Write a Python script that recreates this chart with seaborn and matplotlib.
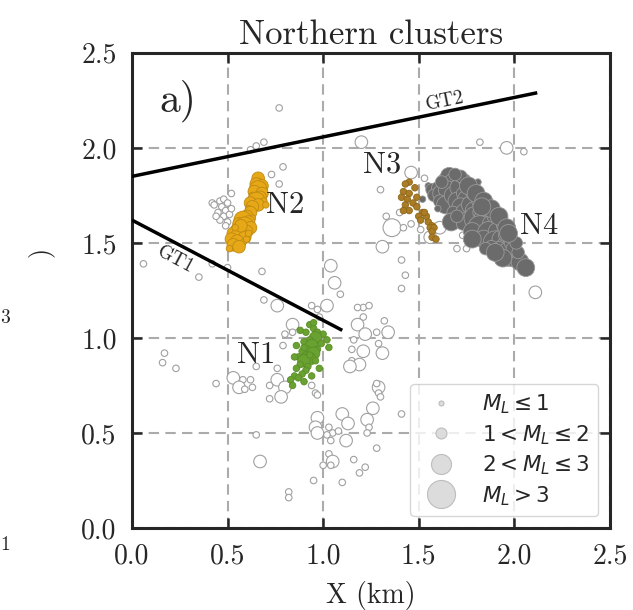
import matplotlib
matplotlib.use("Agg")
import numpy as np
import pandas as pd
import matplotlib.pyplot as plt
import seaborn as sns
from matplotlib.lines import Line2D

# ---------------- data ----------------
# background events (hollow circles): x, y, magnitude class (1..4)
bg_x = [0.77,0.65,0.69,0.62,0.79,0.73,0.77,0.52,0.42,
        0.43,0.46,0.48,0.50,0.47,0.49,0.45,0.48,0.51,0.46,0.50,0.52,0.44,0.49,
        0.06,0.42,0.35,0.50,0.68,0.69,0.76,0.94,
        1.20,1.82,1.96,2.05,1.46,1.30,1.53,
        1.33,1.36,1.42,1.46,1.40,1.51,1.56,1.61,1.70,1.75,1.73,1.31,1.41,1.43,1.41,2.11,
        1.04,1.06,1.09,1.02,1.21,1.24,
        0.97,0.84,0.98,1.18,1.21,1.18,1.32,1.22,1.16,1.28,1.34,1.21,1.15,1.31,1.15,1.19,1.14,1.29,
        1.29,1.29,1.30,1.28,1.41,1.26,1.23,1.24,1.10,1.13,1.12,1.05,1.03,0.97,0.96,0.97,1.02,1.04,
        1.08,1.23,1.28,1.16,1.22,1.19,1.10,0.95,1.03,1.05,1.04,1.00,0.82,0.82,0.67,0.65,
        0.17,0.16,0.23,0.44,0.53,0.58,0.62,0.56,0.63,0.59,0.65,0.76,0.79,0.76,0.72,0.80,0.78,0.72,
        0.94,0.96,0.97,0.80,0.84]
bg_y = [2.21,2.01,2.03,1.99,1.90,1.86,1.81,1.76,1.71,
        1.70,1.72,1.73,1.71,1.69,1.67,1.66,1.64,1.65,1.62,1.61,1.68,1.64,1.59,
        1.39,1.39,1.32,1.37,1.35,1.20,1.17,1.17,
        2.03,2.03,2.00,1.98,1.87,1.78,1.84,
        1.64,1.58,1.58,1.60,1.66,1.57,1.53,1.58,1.47,1.47,1.54,1.48,1.41,1.33,1.26,1.24,
        1.38,1.29,1.23,1.17,1.16,1.17,
        1.15,1.07,1.11,1.16,1.11,1.07,1.09,1.02,0.99,1.03,1.03,0.93,0.94,0.92,0.88,0.86,0.85,0.97,
        0.74,0.71,0.69,0.76,0.60,0.63,0.57,0.53,0.60,0.55,0.46,0.50,0.53,0.58,0.53,0.50,0.49,0.46,
        0.51,0.50,0.42,0.36,0.32,0.29,0.24,0.25,0.39,0.35,0.33,0.33,0.19,0.16,0.35,0.49,
        0.92,0.87,0.84,0.76,0.79,0.78,0.78,0.74,0.74,0.73,0.85,0.84,0.96,0.78,0.75,0.74,0.69,0.68,
        0.75,0.71,0.70,1.02,1.03]
bg_mag = [1,1,1,1,1,1,1,1,1,
          1,1,1,1,1,1,1,1,1,1,1,1,1,1,
          1,1,1,1,1,1,2,1,
          2,1,2,1,2,1,1,
          1,3,1,1,1,1,2,2,1,1,1,2,1,1,1,2,
          2,2,1,2,1,1,
          1,2,1,1,1,2,1,2,1,1,2,2,1,2,1,2,2,1,
          2,1,1,1,1,2,2,1,2,2,2,1,1,2,2,2,1,1,
          1,1,1,1,1,1,1,1,1,2,1,1,1,1,2,1,
          1,1,1,1,2,1,1,2,1,1,1,1,1,2,1,2,2,1,
          1,1,1,1,1]

# cluster N1 (green)
n1_x = [0.93,0.95,0.88,0.91,0.97,1.00,0.96,0.93,1.02,0.99,0.90,0.94,1.03,0.92,0.97,0.89,0.95,
        0.91,0.87,0.93,0.85,0.90,0.96,0.88,0.92,0.86,0.91,0.89,0.85,0.87,0.83,0.84,0.90,0.94,
        0.98,0.93,0.90,0.86,0.95]
n1_y = [1.07,1.05,1.04,1.03,1.03,1.02,1.00,0.99,0.99,0.97,0.98,0.96,0.95,0.94,0.94,0.93,0.92,
        0.91,0.90,0.89,0.90,0.88,0.88,0.86,0.85,0.84,0.83,0.81,0.80,0.79,0.78,0.75,0.77,0.80,
        0.84,0.91,0.95,0.96,1.08]
n1_mag = [1,1,1,1,1,1,2,1,1,1,1,2,1,1,1,1,2,1,1,2,1,2,1,1,1,1,1,1,1,1,1,1,1,1,1,1,1,1,1]

# cluster N2 (orange)
n2_x = [0.66,0.67,0.65,0.68,0.66,0.64,0.68,0.63,0.67,0.65,0.62,0.69,0.66,0.63,0.61,0.70,
        0.62,0.60,0.63,0.58,0.61,0.56,0.59,0.62,0.55,0.57,0.60,0.53,0.56,0.59,0.52,0.55,0.58,
        0.53,0.51,0.56,0.60,0.57,0.61,0.54]
n2_y = [1.84,1.82,1.81,1.80,1.78,1.77,1.76,1.75,1.74,1.72,1.71,1.72,1.70,1.69,1.68,1.70,
        1.66,1.64,1.63,1.62,1.61,1.60,1.59,1.58,1.57,1.56,1.56,1.55,1.53,1.53,1.52,1.51,1.50,
        1.49,1.47,1.48,1.52,1.59,1.55,1.58]
n2_mag = [2,1,2,2,3,2,2,1,2,3,2,1,2,2,1,1,
          2,2,1,3,2,2,3,2,2,3,2,2,3,2,2,2,1,2,1,2,1,2,1,1]

# cluster N3 (brown)
n3_x = [1.45,1.43,1.48,1.42,1.45,1.49,1.41,1.44,1.47,1.43,1.49,1.45,1.42,
        1.52,1.50,1.54,1.51,1.55,1.57,1.56,1.58,1.57,1.57,1.59,1.53]
n3_y = [1.82,1.81,1.79,1.77,1.76,1.74,1.74,1.73,1.71,1.70,1.69,1.67,1.67,
        1.66,1.64,1.64,1.62,1.61,1.59,1.58,1.58,1.56,1.53,1.52,1.66]
n3_mag = [1]*25

# cluster N4 (dark grey)
n4_x = [1.55,1.57,1.60,1.58,1.62,1.64,1.66,1.68,1.65,1.61,1.64,1.68,1.71,1.70,1.73,1.75,1.72,
        1.68,1.67,1.74,1.77,1.79,1.76,1.73,1.80,1.83,1.85,1.82,1.78,1.88,1.87,1.84,1.91,1.90,
        1.93,1.95,1.92,1.97,2.00,2.03,2.06,1.88,1.95,1.81,1.70,1.86,1.78,1.74,1.60,1.98,1.52,
        1.81,1.89,1.94,1.99,2.02,
        1.72,1.76,1.80,1.84,1.88,1.92,1.96,1.69,1.62,1.94,2.01,1.85,1.97,1.78,1.90,1.83]
n4_y = [1.80,1.78,1.79,1.75,1.76,1.82,1.85,1.82,1.78,1.72,1.70,1.75,1.79,1.72,1.76,1.73,1.69,
        1.66,1.61,1.66,1.70,1.67,1.62,1.60,1.63,1.66,1.62,1.58,1.56,1.60,1.55,1.52,1.56,1.50,
        1.52,1.48,1.46,1.44,1.42,1.40,1.37,1.48,1.54,1.72,1.64,1.68,1.76,1.83,1.68,1.50,1.73,
        1.82,1.64,1.59,1.47,1.45,
        1.85,1.80,1.76,1.72,1.68,1.64,1.58,1.86,1.82,1.42,1.50,1.47,1.55,1.52,1.45,1.69]
n4_mag = [1,2,2,2,3,3,3,3,3,2,3,3,3,3,2,3,3,
          2,3,3,3,3,3,2,4,3,4,4,3,3,4,3,3,4,
          3,3,3,4,3,3,3,2,2,2,2,2,2,2,1,2,1,
          1,2,2,2,2,
          2,3,3,3,3,3,3,2,2,3,2,2,3,3,3,3]

# fault traces
gt1_x = [0.0, 1.10]
gt1_y = [1.62, 1.04]
gt2_x = [0.0, 2.12]
gt2_y = [1.85, 2.29]

cluster_names = ["N1", "N2", "N3", "N4"]
cluster_label_x = [0.65, 0.80, 1.31, 2.13]
cluster_label_y = [0.91, 1.70, 1.91, 1.59]

mag_levels = [1, 2, 3, 4]
legend_labels = [r"$M_L \leq 1$", r"$1 < M_L \leq 2$", r"$2 < M_L \leq 3$", r"$M_L > 3$"]
ticks = [0.0, 0.5, 1.0, 1.5, 2.0, 2.5]

# ---------------- style ----------------
sns.set_style("ticks")
plt.rcParams["font.family"] = ["cmr10", "DejaVu Serif"]
plt.rcParams["mathtext.fontset"] = "dejavusans"
plt.rcParams["axes.formatter.use_mathtext"] = True

size_map = {1: 22, 2: 82, 3: 165, 4: 300}

fig = plt.figure(figsize=(6.33, 6.10), dpi=100)
ax = fig.add_axes([0.2085, 0.1344, 0.755, 0.779])

bg = pd.DataFrame({"x": bg_x, "y": bg_y, "mag": bg_mag})
sns.scatterplot(data=bg, x="x", y="y", size="mag", sizes=size_map, color="white",
                edgecolor="#a0a0a0", linewidth=0.8, legend=False, ax=ax, zorder=3)

groups = [
    (n4_x, n4_y, n4_mag, "#6b6b6b", "#9a9a9a"),
    (n3_x, n3_y, n3_mag, "#a97c25", "#8f6718"),
    (n2_x, n2_y, n2_mag, "#e6a817", "#c08a12"),
    (n1_x, n1_y, n1_mag, "#6aa231", "#5a8d27"),
]
for gx, gy, gm, fc, ec in groups:
    d = pd.DataFrame({"x": gx, "y": gy, "mag": gm})
    sns.scatterplot(data=d, x="x", y="y", size="mag", sizes=size_map, color=fc,
                    edgecolor=ec, linewidth=0.6, legend=False, ax=ax, zorder=4)

ax.plot(gt1_x, gt1_y, color="black", lw=2.5, zorder=5, solid_capstyle="butt")
ax.plot(gt2_x, gt2_y, color="black", lw=2.5, zorder=5, solid_capstyle="butt")
ax.text(0.23, 1.41, "GT1", rotation=-28, ha="center", va="center", fontsize=14,
        rotation_mode="anchor", zorder=6)
ax.text(1.64, 2.245, "GT2", rotation=11.5, ha="center", va="center", fontsize=14,
        rotation_mode="anchor", zorder=6)

for name, lx, ly in zip(cluster_names, cluster_label_x, cluster_label_y):
    ax.text(lx, ly, name, ha="center", va="center", fontsize=22, zorder=6)

ax.text(0.145, 2.25, "a)", ha="left", va="center", fontsize=30, zorder=6)

ax.set_xlim(0, 2.5)
ax.set_ylim(0, 2.5)
ax.set_xticks(ticks)
ax.set_yticks(ticks)
ax.set_xticklabels([f"{t:.1f}" for t in ticks])
ax.set_yticklabels([f"{t:.1f}" for t in ticks])
ax.set_axisbelow(True)
ax.grid(True, color="#ababab", linestyle=(0, (5, 3)), linewidth=1.5)
ax.tick_params(direction="in", length=7, width=1.8, top=True, right=True,
               labelsize=20, pad=11)
for sp in ax.spines.values():
    sp.set_visible(True)
    sp.set_linewidth(2.2)

ax.set_xlabel("X (km)", fontsize=20, labelpad=8)
ax.set_ylabel("")
ax.set_title("Northern clusters", fontsize=25, pad=6)

handle_ms = [3.6, 7.9, 14.4, 20.2]
handles = [Line2D([], [], linestyle="none", marker="o", markersize=ms,
                  markerfacecolor="#dcdcdc", markeredgecolor="#bdbdbd", markeredgewidth=0.8)
           for ms in handle_ms]
leg = ax.legend(handles, legend_labels, loc="lower right", fontsize=15.5,
                labelspacing=0.32, handletextpad=0.9, borderpad=0.4,
                borderaxespad=0.55, framealpha=0.8, edgecolor="#cccccc", fancybox=True)
leg.set_zorder(7)

# fragments of the neighbouring panel visible at the left edge
fig.text(40 / 633, 1 - 252 / 610, ")", rotation=90, fontsize=19, ha="center", va="center")
fig.text(0.0, 1 - 318 / 610, "3", fontsize=14, ha="left", va="center")
fig.text(0.0, 1 - 545 / 610, "1", fontsize=14, ha="left", va="center")

fig.savefig("out.png", dpi=100)
